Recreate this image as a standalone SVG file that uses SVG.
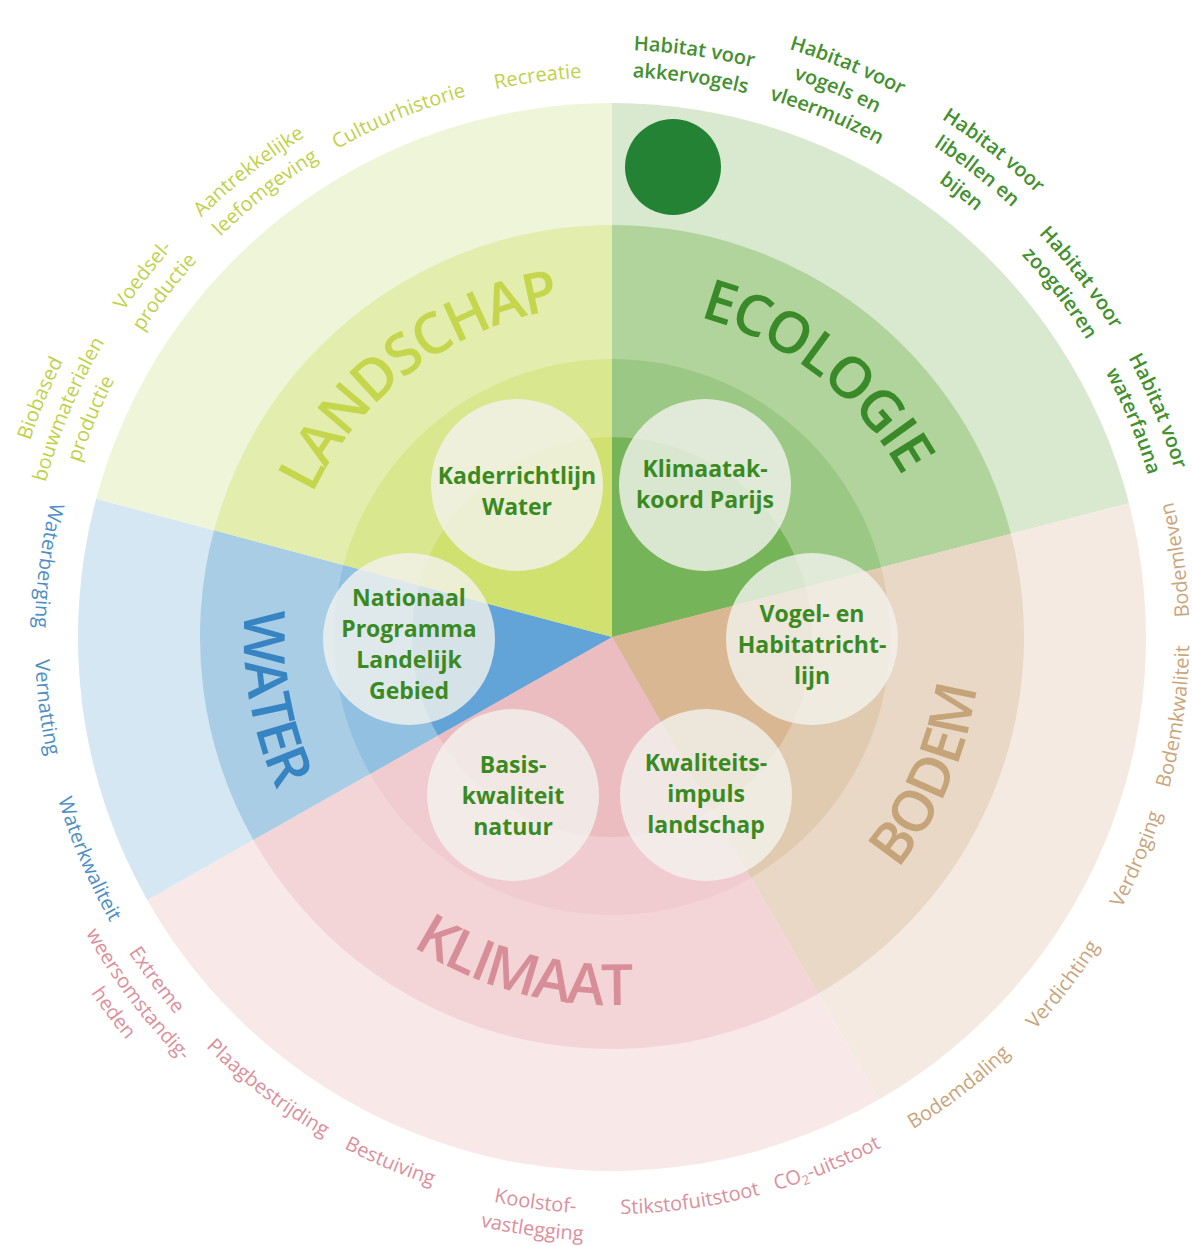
<svg xmlns="http://www.w3.org/2000/svg" xmlns:xlink="http://www.w3.org/1999/xlink" width="1192" height="1246" viewBox="0 0 1192 1246">
<style>
.lbl{font-family:"Open Sans","Liberation Sans",sans-serif;font-size:20px;font-weight:400}
.eco{fill:#44902f;font-weight:600}
.lan{fill:#c0d14a}
.wat{fill:#4d8ec5}
.bod{fill:#c9a57c}
.kli{fill:#db909c}
.ttl{font-family:"Open Sans","Liberation Sans",sans-serif;font-size:57px;font-weight:600;letter-spacing:-2px}
.node circle{fill:#f2f2ee;fill-opacity:0.8}
.node text{font-family:"Open Sans","Liberation Sans",sans-serif;font-size:23px;font-weight:700;fill:#3a8a22;text-anchor:middle}
</style>
<defs>
<path id="cw560" d="M612,77 A560,560 0 1 1 612,1197 A560,560 0 1 1 612,77"/>
<path id="cw587" d="M612,50 A587,587 0 1 1 612,1224 A587,587 0 1 1 612,50"/>
<path id="cw614" d="M612,23 A614,614 0 1 1 612,1251 A614,614 0 1 1 612,23"/>
<path id="cw332" d="M612,305 A332,332 0 1 1 612,969 A332,332 0 1 1 612,305"/>
<path id="ccw577" d="M612,60 A577,577 0 1 0 612,1214 A577,577 0 1 0 612,60"/>
<path id="ccw604" d="M612,33 A604,604 0 1 0 612,1241 A604,604 0 1 0 612,33"/>
<path id="ccw631" d="M612,6 A631,631 0 1 0 612,1268 A631,631 0 1 0 612,6"/>
<path id="ccw368" d="M612,269 A368,368 0 1 0 612,1005 A368,368 0 1 0 612,269"/>
</defs>
<rect width="1192" height="1246" fill="#ffffff"/>
<g id="sectors">
<g id="ring-outer">
<path fill="#d8e9cf" d="M612,637 L612,103 A534,534 0 0 1 1128.99,503.30 Z"/>
<path fill="#f4eae2" d="M612,637 L1128.99,503.30 A534,534 0 0 1 879,1099.46 Z"/>
<path fill="#f8e8e8" d="M612,637 L879,1099.46 A534,534 0 0 1 147.23,899.95 Z"/>
<path fill="#d4e7f2" d="M612,637 L147.23,899.95 A534,534 0 0 1 96.19,498.79 Z"/>
<path fill="#eff5d8" d="M612,637 L96.19,498.79 A534,534 0 0 1 612,103 Z"/>
</g>
<g id="ring-middle">
<path fill="#b1d49c" d="M612,637 L612,225 A412,412 0 0 1 1010.88,533.84 Z"/>
<path fill="#e8d8c5" d="M612,637 L1010.88,533.84 A412,412 0 0 1 818,993.80 Z"/>
<path fill="#f3d5d8" d="M612,637 L818,993.80 A412,412 0 0 1 253.41,839.88 Z"/>
<path fill="#a9cde4" d="M612,637 L253.41,839.88 A412,412 0 0 1 214.04,530.37 Z"/>
<path fill="#e3eeae" d="M612,637 L214.04,530.37 A412,412 0 0 1 612,225 Z"/>
</g>
<g id="ring-inner">
<path fill="#9bc884" d="M612,637 L612,359 A278,278 0 0 1 881.15,567.39 Z"/>
<path fill="#e1cbb0" d="M612,637 L881.15,567.39 A278,278 0 0 1 751,877.76 Z"/>
<path fill="#f0cbcf" d="M612,637 L751,877.76 A278,278 0 0 1 370.04,773.89 Z"/>
<path fill="#91c0e1" d="M612,637 L370.04,773.89 A278,278 0 0 1 343.47,565.05 Z"/>
<path fill="#d9e78f" d="M612,637 L343.47,565.05 A278,278 0 0 1 612,359 Z"/>
</g>
<g id="ring-core">
<path fill="#76b45a" d="M612,637 L612,437 A200,200 0 0 1 805.63,586.92 Z"/>
<path fill="#d8b792" d="M612,637 L805.63,586.92 A200,200 0 0 1 712,810.21 Z"/>
<path fill="#ebbdc1" d="M612,637 L712,810.21 A200,200 0 0 1 437.93,735.48 Z"/>
<path fill="#62a4d8" d="M612,637 L437.93,735.48 A200,200 0 0 1 418.81,585.24 Z"/>
<path fill="#d0e170" d="M612,637 L418.81,585.24 A200,200 0 0 1 612,437 Z"/>
</g>
</g>
<g id="marker-dot"><circle cx="673" cy="167" r="48" fill="#238234"/></g>
<g id="titles">
<text class="ttl" fill="#c5d64c" text-anchor="middle"><textPath xlink:href="#cw332" href="#cw332" startOffset="1871.6">LANDSCHAP</textPath></text>
<text class="ttl" fill="#3b8a2a" text-anchor="middle"><textPath xlink:href="#cw332" href="#cw332" startOffset="220.2">ECOLOGIE</textPath></text>
<text class="ttl" fill="#3784c3" text-anchor="middle"><textPath xlink:href="#ccw368" href="#ccw368" startOffset="642.3">WATER</textPath></text>
<text class="ttl" fill="#c5a47a" text-anchor="middle"><textPath xlink:href="#ccw368" href="#ccw368" startOffset="1581.9">BODEM</textPath></text>
<text class="ttl" fill="#d88e98" text-anchor="middle"><textPath xlink:href="#ccw368" href="#ccw368" startOffset="1059.8">KLIMAAT</textPath></text>
</g>
<g id="labels" class="lbl" text-anchor="middle">
<text class="lbl eco"><textPath href="#cw587" startOffset="82.0">Habitat voor</textPath></text>
<text class="lbl eco"><textPath href="#cw560" startOffset="78.2">akkervogels</textPath></text>
<text class="lbl eco"><textPath href="#cw614" startOffset="240.1">Habitat voor</textPath></text>
<text class="lbl eco"><textPath href="#cw587" startOffset="229.5">vogels en</textPath></text>
<text class="lbl eco"><textPath href="#cw560" startOffset="218.9">vleermuizen</textPath></text>
<text class="lbl eco"><textPath href="#cw614" startOffset="408.3">Habitat voor</textPath></text>
<text class="lbl eco"><textPath href="#cw587" startOffset="390.3">libellen en</textPath></text>
<text class="lbl eco"><textPath href="#cw560" startOffset="372.4">bijen</textPath></text>
<text class="lbl eco"><textPath href="#cw587" startOffset="537.9">Habitat voor</textPath></text>
<text class="lbl eco"><textPath href="#cw560" startOffset="513.1">zoogdieren</textPath></text>
<text class="lbl eco"><textPath href="#cw587" startOffset="691.5">Habitat voor</textPath></text>
<text class="lbl eco"><textPath href="#cw560" startOffset="659.7">waterfauna</textPath></text>
<text class="lbl bod"><textPath href="#ccw577" startOffset="2797.7">Bodemleven</textPath></text>
<text class="lbl bod"><textPath href="#ccw577" startOffset="2638.5">Bodemkwaliteit</textPath></text>
<text class="lbl bod"><textPath href="#ccw577" startOffset="2488.4">Verdroging</textPath></text>
<text class="lbl bod"><textPath href="#ccw577" startOffset="2340.4">Verdichting</textPath></text>
<text class="lbl bod"><textPath href="#ccw577" startOffset="2191.4">Bodemdaling</textPath></text>
<text class="lbl kli"><textPath href="#ccw577" startOffset="2036.3">CO<tspan dy="4" font-size="13">2</tspan><tspan dy="-4">-uitstoot</tspan></textPath></text>
<text class="lbl kli"><textPath href="#ccw577" startOffset="1892.3">Stikstofuitstoot</textPath></text>
<text class="lbl kli"><textPath href="#ccw577" startOffset="1735.2">Koolstof-</textPath></text>
<text class="lbl kli"><textPath href="#ccw604" startOffset="1816.4">vastlegging</textPath></text>
<text class="lbl kli"><textPath href="#ccw577" startOffset="1582.1">Bestuiving</textPath></text>
<text class="lbl kli"><textPath href="#ccw577" startOffset="1437.1">Plaagbestrijding</textPath></text>
<text class="lbl kli"><textPath href="#ccw577" startOffset="1279.0">Extreme</textPath></text>
<text class="lbl kli"><textPath href="#ccw604" startOffset="1338.8">weersomstandig-</textPath></text>
<text class="lbl kli"><textPath href="#ccw631" startOffset="1398.7">heden</textPath></text>
<text class="lbl wat"><textPath href="#ccw577" startOffset="1138.0">Waterkwaliteit</textPath></text>
<text class="lbl wat"><textPath href="#ccw577" startOffset="977.9">Vernatting</textPath></text>
<text class="lbl wat"><textPath href="#ccw577" startOffset="833.8">Waterberging</textPath></text>
<text class="lbl lan"><textPath href="#cw614" startOffset="3136.7">Biobased</textPath></text>
<text class="lbl lan"><textPath href="#cw587" startOffset="2998.7">bouwmaterialen</textPath></text>
<text class="lbl lan"><textPath href="#cw560" startOffset="2860.8">productie</textPath></text>
<text class="lbl lan"><textPath href="#cw587" startOffset="3151.4">Voedsel-</textPath></text>
<text class="lbl lan"><textPath href="#cw560" startOffset="3006.4">productie</textPath></text>
<text class="lbl lan"><textPath href="#cw587" startOffset="3298.9">Aantrekkelijke</textPath></text>
<text class="lbl lan"><textPath href="#cw560" startOffset="3147.2">leefomgeving</textPath></text>
<text class="lbl lan"><textPath href="#cw560" startOffset="3300.6">Cultuurhistorie</textPath></text>
<text class="lbl lan"><textPath href="#cw560" startOffset="3444.4">Recreatie</textPath></text>
</g>
<g id="node-kaderrichtlijn" class="node"><circle cx="517" cy="485" r="86"/><text x="517" y="484">Kaderrichtlijn</text><text x="517" y="515">Water</text></g>
<g id="node-klimaatakkoord" class="node"><circle cx="705" cy="485" r="86"/><text x="705" y="477">Klimaatak-</text><text x="705" y="508">koord Parijs</text></g>
<g id="node-vogelhabitat" class="node"><circle cx="812" cy="639" r="86"/><text x="812" y="622">Vogel- en</text><text x="812" y="653">Habitatricht-</text><text x="812" y="684">lijn</text></g>
<g id="node-kwaliteitsimpuls" class="node"><circle cx="706" cy="795" r="86"/><text x="706" y="771">Kwaliteits-</text><text x="706" y="802">impuls</text><text x="706" y="833">landschap</text></g>
<g id="node-basiskwaliteit" class="node"><circle cx="513" cy="795" r="86"/><text x="513" y="773">Basis-</text><text x="513" y="804">kwaliteit</text><text x="513" y="835">natuur</text></g>
<g id="node-nationaal" class="node"><circle cx="409" cy="639" r="86"/><text x="409" y="606">Nationaal</text><text x="409" y="637">Programma</text><text x="409" y="668">Landelijk</text><text x="409" y="699">Gebied</text></g>
</svg>
